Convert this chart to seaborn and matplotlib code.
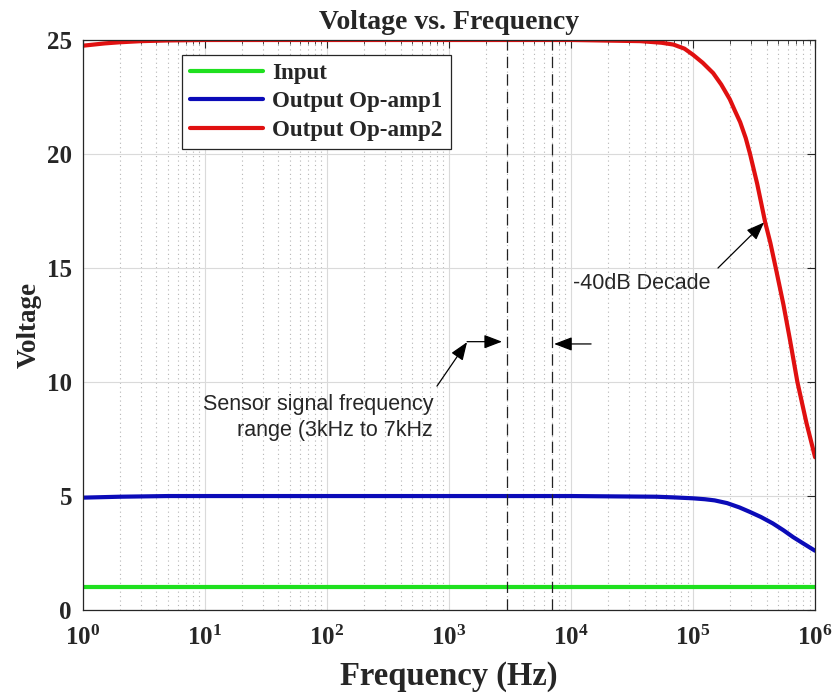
import numpy as np
import pandas as pd
import matplotlib
matplotlib.use('Agg')
import matplotlib.pyplot as plt
import seaborn as sns

# values
input_freq = [1, 1e6]
input_volt = [1.0, 1.0]

op1_freq = [1, 2, 5, 10, 100, 1e3, 1e4, 5e4, 7e4, 1e5, 1.25e5, 1.5e5, 1.9e5, 2.4e5,
            2.93e5, 3.6e5, 4.5e5, 5.5e5, 6.6e5, 8e5, 1e6]
op1_volt = [4.93, 4.97, 5.0, 5.0, 5.0, 5.0, 5.0, 4.97, 4.94, 4.9, 4.86, 4.81, 4.69, 4.5,
            4.3, 4.08, 3.8, 3.5, 3.2, 2.92, 2.6]

op2_freq = [1, 1.5, 2, 3, 5, 10, 100, 1e3, 1e4, 3.7e4, 5.5e4, 6.9e4, 8.5e4, 1e5, 1.2e5,
            1.46e5, 1.7e5, 2.0e5, 2.2e5, 2.43e5, 2.7e5, 2.93e5, 3.35e5, 3.6e5, 3.9e5,
            4.3e5, 4.76e5, 5.5e5, 6.2e5, 7.16e5, 8.5e5, 1e6]
op2_volt = [24.75, 24.85, 24.9, 24.95, 24.98, 25.0, 25.0, 25.0, 25.0, 24.95, 24.88, 24.8,
            24.62, 24.35, 24.0, 23.55, 23.05, 22.4, 21.9, 21.4, 20.7, 20.0, 18.7, 17.9,
            17.0, 16.1, 15.0, 13.4, 11.9, 10.0, 8.2, 6.7]

series = ['Input', 'Output Op-amp1', 'Output Op-amp2']
colors = ['#1fe01f', '#0b0bb8', '#e01010']
band = [3000, 7000]
x_ticks = [1, 10, 100, 1e3, 1e4, 1e5, 1e6]
y_ticks = [0, 5, 10, 15, 20, 25]

df = pd.concat([
    pd.DataFrame({'f': input_freq, 'v': input_volt, 'name': series[0]}),
    pd.DataFrame({'f': op1_freq, 'v': op1_volt, 'name': series[1]}),
    pd.DataFrame({'f': op2_freq, 'v': op2_volt, 'name': series[2]}),
])

sns.set_style('white')
plt.rcParams['font.family'] = ['Liberation Serif', 'DejaVu Serif']
plt.rcParams['mathtext.fontset'] = 'custom'
plt.rcParams['mathtext.bf'] = 'Liberation Serif:bold'
plt.rcParams['mathtext.rm'] = 'Liberation Serif:bold'

fig = plt.figure(figsize=(8.36, 6.98), dpi=100)
ax = fig.add_axes([0.0993, 0.126, 0.8757, 0.8167])

sns.lineplot(data=df, x='f', y='v', hue='name', hue_order=series,
             palette=colors, linewidth=3, ax=ax, sort=True)
ax.set_xscale('log')
ax.set_xlim(1, 1e6)
ax.set_ylim(0, 25)

# grid like matlab: solid major, dotted minor on x
ax.set_axisbelow(True)
ax.grid(which='major', color='#dadada', lw=0.8, ls='-')
ax.grid(which='minor', axis='x', color='#b5b5b5', lw=0.8, ls=(0, (1, 3)))
ax.minorticks_on()
ax.yaxis.set_minor_locator(matplotlib.ticker.NullLocator())

for v in band:
    ax.axvline(v, color='#222222', lw=0.9, ls=(0, (9, 5)), zorder=3)

ax.set_xticks(x_ticks)
ax.set_xticklabels([r'$\mathbf{10^{%d}}$' % int(np.log10(t)) for t in x_ticks])
ax.set_yticks(y_ticks)
ax.set_yticklabels([str(t) for t in y_ticks])
ax.tick_params(which='both', direction='in', top=True, right=True, colors='#262626')
ax.tick_params(which='major', length=6, width=0.8, labelsize=18, pad=8)
ax.tick_params(axis='x', which='major', pad=11)
ax.tick_params(which='minor', length=3, width=0.6)
for lab in ax.get_yticklabels():
    lab.set_fontweight('bold')
for s in ax.spines.values():
    s.set_color('#262626')
    s.set_linewidth(0.9)

ax.set_title('Voltage vs. Frequency', fontsize=20, fontweight='bold', pad=8)
ax.set_xlabel('Frequency (Hz)', fontsize=23.5, fontweight='bold', labelpad=8)
ax.set_ylabel('Voltage', fontsize=19.5, fontweight='bold', labelpad=4)

handles, labels = ax.get_legend_handles_labels()
leg = ax.legend(handles, labels, loc='upper left', bbox_to_anchor=(0.135, 0.974),
                prop={'family': 'Liberation Serif', 'weight': 'bold', 'size': 16.5},
                frameon=True, fancybox=False, framealpha=1, edgecolor='#262626',
                handlelength=3.2, labelspacing=0.33, borderpad=0.35, handletextpad=0.4,
                borderaxespad=0)
leg.get_frame().set_linewidth(0.9)
for h in leg.get_lines():
    h.set_linewidth(3)

arrow = dict(arrowstyle='-|>,head_length=1.1,head_width=0.42', color='black',
             lw=0.9, shrinkA=0, shrinkB=0)
ax.annotate('', xy=(1405, 11.75), xytext=(796, 9.82), arrowprops=arrow)
ax.annotate('', xy=(2717, 11.77), xytext=(1405, 11.77), arrowprops=arrow)
ax.annotate('', xy=(7260, 11.67), xytext=(14590, 11.67), arrowprops=arrow)
ax.annotate('', xy=(3.82e5, 17.0), xytext=(1.6e5, 15.0), arrowprops=arrow)

ax.text(739, 8.46, 'Sensor signal frequency\nrange (3kHz to 7kHz', ha='right', va='center',
        multialignment='right', fontsize=15.5, family='Liberation Sans', linespacing=1.3)
ax.text(1.04e4, 14.3, '-40dB Decade', ha='left', va='center',
        fontsize=15.5, family='Liberation Sans')

plt.savefig('out.png', dpi=100)
